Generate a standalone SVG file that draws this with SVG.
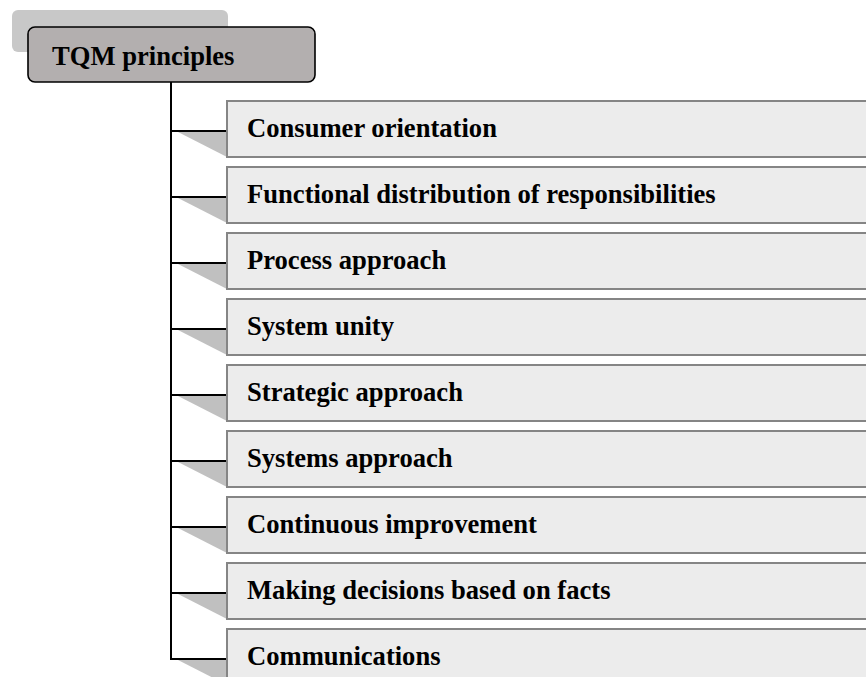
<svg xmlns="http://www.w3.org/2000/svg" width="866" height="677" viewBox="0 0 866 677">
<style>
.box{fill:#ececec;stroke:#858585;stroke-width:2}
.sh{fill:#c0c0c0}
.lbl{font-family:"Liberation Serif","Times New Roman",serif;font-weight:bold;font-size:26.6px;fill:#000}
.conn{stroke:#000;stroke-width:2;fill:none}
</style>
<rect width="866" height="677" fill="#fff"/>
<g id="title">
<rect x="12" y="10" width="216" height="42" rx="6" fill="#c8c8c8"/>
<rect x="28" y="27" width="287" height="55" rx="7" fill="#b3afaf" stroke="#000" stroke-width="1.6"/>
<text class="lbl" x="52" y="65">TQM principles</text>
</g>
<g id="connectors">
<path class="conn" d="M171 82V659H227"/>
<path class="conn" d="M171 131H227M171 197H227M171 263H227M171 329H227M171 395H227M171 461H227M171 527H227M171 593H227"/>
</g>
<g id="n1"><polygon class="sh" points="178,132 227,132 227,157"/><rect class="box" x="227" y="101" width="700" height="56"/><text class="lbl" x="247" y="137">Consumer orientation</text></g>
<g id="n2"><polygon class="sh" points="178,198 227,198 227,223"/><rect class="box" x="227" y="167" width="700" height="56"/><text class="lbl" x="247" y="203">Functional distribution of responsibilities</text></g>
<g id="n3"><polygon class="sh" points="178,264 227,264 227,289"/><rect class="box" x="227" y="233" width="700" height="56"/><text class="lbl" x="247" y="269">Process approach</text></g>
<g id="n4"><polygon class="sh" points="178,330 227,330 227,355"/><rect class="box" x="227" y="299" width="700" height="56"/><text class="lbl" x="247" y="335">System unity</text></g>
<g id="n5"><polygon class="sh" points="178,396 227,396 227,421"/><rect class="box" x="227" y="365" width="700" height="56"/><text class="lbl" x="247" y="401">Strategic approach</text></g>
<g id="n6"><polygon class="sh" points="178,462 227,462 227,487"/><rect class="box" x="227" y="431" width="700" height="56"/><text class="lbl" x="247" y="467">Systems approach</text></g>
<g id="n7"><polygon class="sh" points="178,528 227,528 227,553"/><rect class="box" x="227" y="497" width="700" height="56"/><text class="lbl" x="247" y="533">Continuous improvement</text></g>
<g id="n8"><polygon class="sh" points="178,594 227,594 227,619"/><rect class="box" x="227" y="563" width="700" height="56"/><text class="lbl" x="247" y="599">Making decisions based on facts</text></g>
<g id="n9"><polygon class="sh" points="178,660 227,660 227,685"/><rect class="box" x="227" y="629" width="700" height="56"/><text class="lbl" x="247" y="665">Communications</text></g>
</svg>
